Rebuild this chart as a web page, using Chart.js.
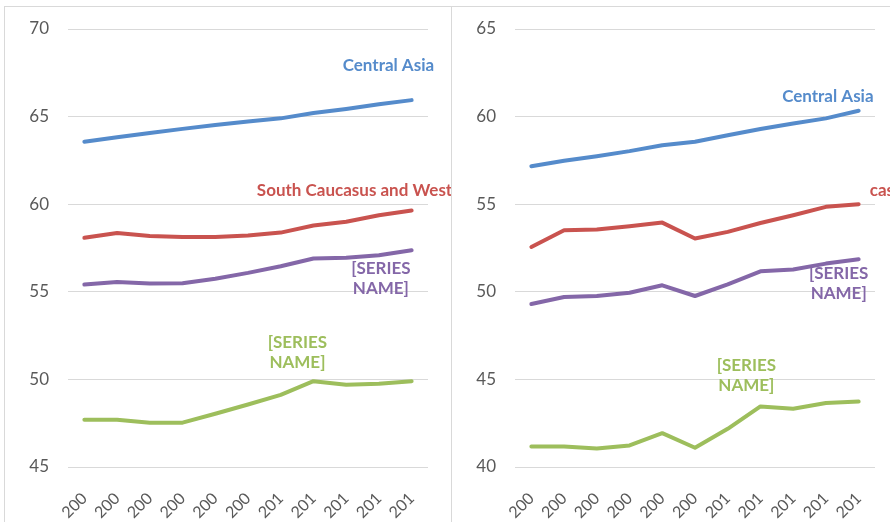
<!doctype html>
<html>
<head>
    <title>Expectativa de vida</title>
    <script src="https://cdn.jsdelivr.net/npm/chart.js"></script>
    <style>
        body { margin: 0; background: #fff; overflow: hidden; width: 890px; height: 522px; position: relative; }
        .painel { position: absolute; top: 6px; border: 1px solid #d9d9d9; background: #fff; overflow: hidden; }
        #painelEsq { left: 4px; width: 446px; height: 530px; }
        #painelDir { left: 451px; width: 446px; height: 530px; }
    </style>
</head>
<body>

    <div class="painel" id="painelEsq"><canvas id="graficoEsq" width="446" height="520"></canvas></div>
    <div class="painel" id="painelDir"><canvas id="graficoDir" width="446" height="520"></canvas></div>

    <script>
        // Rótulos do eixo X (anos cortados)
        var anos = ['200', '200', '200', '200', '200', '200', '201', '201', '201', '201', '201'];

        // Gráfico da esquerda
        var esqAsiaCentral = [63.56, 63.82, 64.06, 64.3, 64.52, 64.72, 64.9, 65.2, 65.43, 65.7, 65.94];
        var esqCaucaso     = [58.08, 58.36, 58.19, 58.13, 58.13, 58.21, 58.38, 58.78, 59.0, 59.37, 59.64];
        var esqRoxo        = [55.41, 55.56, 55.47, 55.49, 55.75, 56.08, 56.46, 56.9, 56.95, 57.09, 57.37];
        var esqVerde       = [47.7, 47.7, 47.53, 47.53, 48.04, 48.57, 49.12, 49.9, 49.7, 49.75, 49.9];

        // Gráfico da direita
        var dirAsiaCentral = [57.17, 57.48, 57.74, 58.03, 58.37, 58.56, 58.94, 59.29, 59.61, 59.9, 60.33];
        var dirCaucaso     = [52.56, 53.51, 53.55, 53.74, 53.95, 53.04, 53.42, 53.93, 54.37, 54.85, 55.0];
        var dirRoxo        = [49.3, 49.7, 49.76, 49.95, 50.37, 49.76, 50.43, 51.17, 51.27, 51.61, 51.86];
        var dirVerde       = [41.17, 41.17, 41.06, 41.23, 41.93, 41.1, 42.18, 43.46, 43.33, 43.65, 43.74];

        var cores = { azul: '#558BCB', vermelho: '#C9534F', roxo: '#8467A8', verde: '#9DBE5C' };

        // Plugin simples que escreve o nome da série perto da linha
        var nomesSeries = {
            id: 'nomesSeries',
            afterDatasetsDraw: function (chart, args, opts) {
                var ctx = chart.ctx;
                var x = chart.scales.x, y = chart.scales.y;
                ctx.save();
                ctx.font = 'bold 17px Lato';
                ctx.textBaseline = 'middle';
                (opts.itens || []).forEach(function (item) {
                    var px = x.getPixelForValue(item.em[0]);
                    var py = y.getPixelForValue(item.em[1]);
                    ctx.fillStyle = item.cor;
                    ctx.textAlign = item.alinhar || 'center';
                    var n = item.texto.length;
                    item.texto.forEach(function (linha, i) {
                        ctx.fillText(linha, px, py + (i - (n - 1) / 2) * 20);
                    });
                });
                ctx.restore();
            }
        };

        function serie(dados, cor) {
            return {
                data: dados,
                borderColor: cor,
                borderWidth: 4,
                pointRadius: 0,
                tension: 0,
                borderCapStyle: 'round',
                borderJoinStyle: 'round'
            };
        }

        function criarGrafico(id, series, minimo, maximo, itens) {
            return new Chart(document.getElementById(id).getContext('2d'), {
                type: 'line',
                data: {
                    labels: anos,
                    datasets: series
                },
                options: {
                    responsive: false,
                    animation: false,
                    layout: { padding: { top: 22, right: 23, bottom: 0, left: 0 } },
                    scales: {
                        x: {
                            offset: true,
                            grid: { display: false },
                            border: { display: false },
                            ticks: {
                                color: '#595959',
                                font: { family: 'Lato', size: 16 },
                                minRotation: 45,
                                maxRotation: 45,
                                padding: 14,
                                autoSkip: false
                            },
                            afterFit: function (s) { s.height = 60; }
                        },
                        y: {
                            min: minimo,
                            max: maximo,
                            // marca invisível só para afastar os números da grade
                            grid: { color: '#d9d9d9', lineWidth: 1, drawTicks: true, tickLength: 19, tickColor: 'rgba(0,0,0,0)' },
                            border: { display: false },
                            ticks: {
                                stepSize: 5,
                                color: '#595959',
                                font: { family: 'Lato', size: 17 },
                                padding: 0
                            },
                            afterFit: function (s) { s.width = 63; }
                        }
                    },
                    plugins: {
                        legend: { display: false },
                        tooltip: { enabled: false },
                        nomesSeries: { itens: itens }
                    }
                },
                plugins: [nomesSeries]
            });
        }

        criarGrafico('graficoEsq', [
            serie(esqAsiaCentral, cores.azul),
            serie(esqCaucaso, cores.vermelho),
            serie(esqRoxo, cores.roxo),
            serie(esqVerde, cores.verde)
        ], 45, 70, [
            { texto: ['Central Asia'], cor: cores.azul, em: [9.29, 67.94] },
            { texto: ['South Caucasus and Western Balkans'], cor: cores.vermelho, em: [5.27, 60.8], alinhar: 'left' },
            { texto: ['[SERIES', 'NAME]'], cor: cores.roxo, em: [9.06, 55.77] },
            { texto: ['[SERIES', 'NAME]'], cor: cores.verde, em: [6.51, 51.54] }
        ]);

        criarGrafico('graficoDir', [
            serie(dirAsiaCentral, cores.azul),
            serie(dirCaucaso, cores.vermelho),
            serie(dirRoxo, cores.roxo),
            serie(dirVerde, cores.verde)
        ], 40, 65, [
            { texto: ['Central Asia'], cor: cores.azul, em: [9.06, 61.13] },
            { texto: ['cas'], cor: cores.vermelho, em: [10.34, 55.8], alinhar: 'left' },
            { texto: ['[SERIES', 'NAME]'], cor: cores.roxo, em: [9.39, 50.49] },
            { texto: ['[SERIES', 'NAME]'], cor: cores.verde, em: [6.57, 45.23] }
        ]);
    </script>
</body>
</html>
